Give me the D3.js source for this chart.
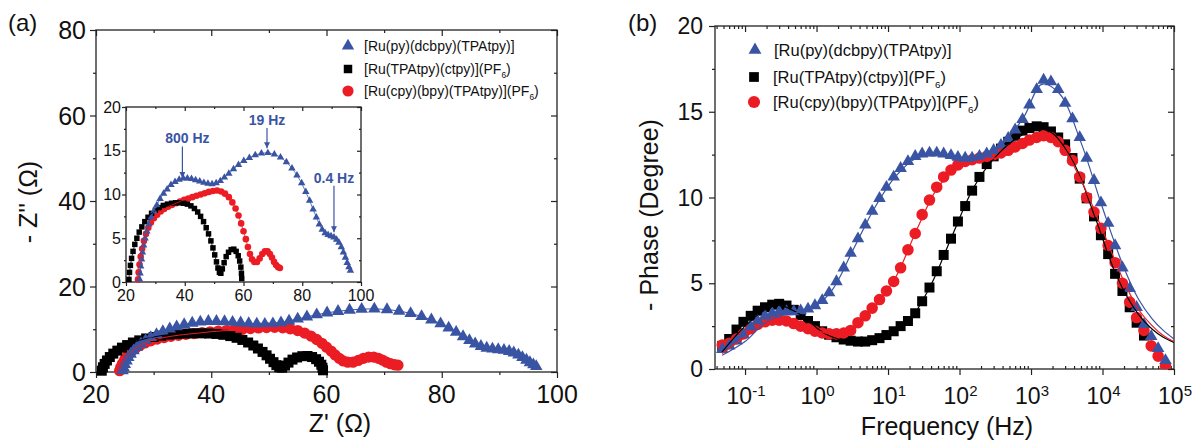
<!DOCTYPE html>
<html>
<head>
<meta charset="utf-8">
<script src="https://cdn.jsdelivr.net/npm/d3@7"></script>
<style>
  body { margin: 0; background: #fff; }
  svg text { font-family: Arial, "Liberation Sans", sans-serif; }
</style>
</head>
<body>
<svg id="fig" width="1194" height="442"></svg>
<script>
// ---------- series names ----------
const seriesNames = ["[Ru(py)(dcbpy)(TPAtpy)]", "[Ru(TPAtpy)(ctpy)](PF", "[Ru(cpy)(bpy)(TPAtpy)](PF"];

// ---------- Nyquist data: [Z' (ohm), -Z'' (ohm)] ----------
const zBlue = [[24.6,0.3],[24.8,1.0],[25.0,1.8],[25.3,2.6],[25.6,3.4],[26.0,4.2],[26.5,5.0],[27.1,5.8],[27.8,6.6],[28.6,7.4],[29.5,8.1],[30.5,8.8],[31.6,9.5],[32.8,10.1],[34.0,10.6],[35.3,11.1],[36.7,11.45],[38.1,11.7],[39.5,11.85],[40.9,11.85],[42.3,11.8],[43.7,11.65],[45.1,11.5],[46.5,11.35],[47.9,11.25],[49.3,11.2],[50.7,11.3],[52.1,11.55],[53.5,11.95],[55.0,12.4],[56.6,12.9],[58.3,13.4],[60.1,13.85],[62.0,14.2],[64.0,14.5],[66.1,14.7],[68.3,14.75],[70.5,14.6],[72.6,14.25],[74.6,13.7],[76.5,13.0],[78.2,12.2],[79.8,11.3],[81.2,10.3],[82.5,9.3],[83.7,8.3],[84.8,7.4],[85.8,6.6],[86.8,6.0],[87.8,5.6],[88.8,5.4],[89.8,5.25],[90.8,5.1],[91.7,4.85],[92.5,4.5],[93.3,4.0],[94.0,3.4],[94.7,2.8],[95.3,2.2],[95.9,1.7],[96.4,1.3]];
const zBlack = [[21.0,0.3],[21.2,1.1],[21.5,1.9],[21.9,2.7],[22.4,3.5],[23.0,4.3],[23.7,5.0],[24.5,5.7],[25.4,6.3],[26.4,6.9],[27.5,7.4],[28.7,7.85],[30.0,8.2],[31.3,8.5],[32.7,8.75],[34.1,8.9],[35.5,9.0],[36.9,9.05],[38.3,9.05],[39.6,9.0],[40.9,8.9],[42.1,8.7],[43.3,8.4],[44.4,8.0],[45.4,7.5],[46.4,6.9],[47.3,6.2],[48.1,5.5],[48.9,4.7],[49.6,3.9],[50.2,3.1],[50.8,2.3],[51.3,1.6],[51.8,1.1],[52.3,1.0],[52.8,1.5],[53.4,2.2],[54.1,2.9],[54.9,3.4],[55.8,3.7],[56.7,3.75],[57.5,3.5],[58.2,3.0],[58.7,2.4],[59.1,1.7],[59.3,1.0],[59.4,0.4]];
const zRed = [[24.1,0.3],[24.3,1.1],[24.6,2.0],[25.0,2.9],[25.5,3.8],[26.1,4.7],[26.8,5.5],[27.6,6.2],[28.5,6.8],[29.5,7.3],[30.6,7.7],[31.8,8.05],[33.0,8.35],[34.3,8.6],[35.6,8.8],[37.0,9.0],[38.4,9.2],[39.8,9.4],[41.2,9.55],[42.6,9.7],[44.0,9.85],[45.4,10.0],[46.8,10.15],[48.2,10.3],[49.6,10.4],[51.0,10.45],[52.4,10.35],[53.7,10.1],[55.0,9.7],[56.2,9.1],[57.3,8.4],[58.3,7.6],[59.2,6.7],[60.0,5.8],[60.8,4.9],[61.5,4.0],[62.2,3.2],[62.9,2.6],[63.7,2.3],[64.6,2.3],[65.5,2.7],[66.4,3.2],[67.3,3.5],[68.2,3.5],[69.0,3.2],[69.7,2.8],[70.4,2.3],[71.1,1.95],[71.8,1.7],[72.4,1.6]];

// frequency marks on the inset: label, Z', -Z'' of the marked point, -Z'' at the arrow tail
const freqMarks = [
  { label: "800 Hz", zre: 39.2, zim: 11.9, tail: 15.5 },
  { label: "19 Hz",  zre: 68.0, zim: 15.3, tail: 17.6 },
  { label: "0.4 Hz", zre: 90.8, zim: 5.7,  tail: 11.0 }
];

// ---------- Bode data ----------
const freqHz = [0.048,0.060,0.076,0.095,0.12,0.15,0.19,0.24,0.30,0.38,0.48,0.60,0.76,0.95,1.2,1.5,1.9,2.4,3.0,3.8,4.8,6.0,7.6,9.5,12,15,19,24,30,38,48,60,76,95,120,150,190,240,300,380,480,600,760,950,1200,1500,1900,2400,3000,3800,4800,6000,7600,9500,12000,15000,19000,24000,30000,38000,48000,60000,76000];
const phaseBlue = [1.15,1.35,1.65,2.0,2.45,2.8,3.1,3.25,3.35,3.35,3.35,3.4,3.5,3.7,4.0,4.45,5.1,5.9,6.75,7.6,8.4,9.2,9.95,10.6,11.2,11.7,12.1,12.4,12.55,12.6,12.6,12.55,12.45,12.35,12.3,12.3,12.4,12.55,12.75,13.05,13.45,13.95,14.55,15.4,16.3,16.85,16.75,16.3,15.5,14.6,13.5,12.3,11.0,9.7,8.5,7.2,5.9,4.7,3.6,2.6,1.9,1.2,0.5];
const phaseBlack = [1.35,1.75,2.3,2.75,3.1,3.4,3.6,3.75,3.8,3.7,3.45,3.15,2.8,2.5,2.2,2.0,1.85,1.72,1.65,1.6,1.6,1.68,1.8,1.98,2.2,2.5,2.8,3.25,3.95,4.75,5.7,6.65,7.6,8.6,9.5,10.4,11.2,11.95,12.4,12.85,13.25,13.6,13.9,14.05,14.15,14.1,13.85,13.5,13.1,12.3,11.1,9.95,8.9,7.8,6.7,5.55,4.55,3.6,2.7,1.95];
const phaseRed = [1.4,1.5,1.75,2.05,2.35,2.6,2.75,2.85,2.85,2.8,2.65,2.5,2.35,2.2,2.1,2.05,2.05,2.1,2.25,2.7,3.1,3.55,4.05,4.55,5.1,5.9,6.95,7.9,9.0,9.85,10.6,11.2,11.6,11.9,12.1,12.2,12.3,12.4,12.5,12.6,12.75,12.95,13.15,13.35,13.5,13.6,13.5,13.25,12.75,12.15,11.2,10.0,9.15,8.2,7.2,6.2,5.0,3.9,3.0,2.25,1.35,0.75,0.2];

// fitted curves: [log10(f / Hz), -phase (deg)]
const fitBlue = [[-1.32,0.8],[-1.0,1.6],[-0.7,2.75],[-0.4,3.2],[-0.1,3.45],[0.2,4.5],[0.5,6.85],[0.8,9.3],[1.1,11.2],[1.4,12.3],[1.7,12.45],[2.0,12.15],[2.3,12.35],[2.6,13.1],[2.9,14.7],[3.15,16.6],[3.4,16.05],[3.7,13.2],[4.0,9.4],[4.3,5.9],[4.5,4.1],[4.7,2.9],[4.85,2.25],[5.0,1.75]];
const fitRed = [[-1.32,0.9],[-1.0,1.85],[-0.7,2.6],[-0.45,2.8],[-0.1,2.4],[0.2,2.05],[0.5,2.3],[0.8,3.6],[1.1,5.3],[1.4,8.1],[1.7,10.6],[2.0,11.8],[2.3,12.15],[2.6,12.4],[2.9,12.95],[3.15,13.4],[3.4,13.1],[3.7,11.0],[4.0,8.1],[4.3,5.1],[4.5,3.5],[4.7,2.5],[4.85,1.95],[5.0,1.6]];
const fitBlack = [[-1.32,1.0],[-1.0,2.5],[-0.7,3.5],[-0.5,3.7],[-0.2,3.1],[0.1,2.1],[0.4,1.65],[0.7,1.55],[1.0,1.95],[1.3,2.85],[1.6,4.9],[1.9,7.8],[2.2,10.6],[2.5,12.35],[2.8,13.45],[3.1,14.0],[3.3,13.75],[3.6,12.0],[3.9,8.8],[4.2,5.4],[4.5,3.2],[4.7,2.3],[4.85,1.85],[5.0,1.55]];

// axis tick values
const zTicks = [20, 40, 60, 80, 100];
const zMinor = [30, 50, 70, 90];
const zImTicks = [0, 20, 40, 60, 80];
const zImMinor = [10, 30, 50, 70];
const insetYTicks = [0, 5, 10, 15, 20];
const insetYMinor = [2.5, 7.5, 12.5, 17.5];
const phaseTicks = [0, 5, 10, 15, 20];
const phaseMinor = [2.5, 7.5, 12.5, 17.5];
const decadeExps = [-1, 0, 1, 2, 3, 4, 5];

// ---------- styling ----------
const BLUE = "#3a54a4", RED = "#ec1c24", BLACK = "#000000", AXIS = "#222";

const svg = d3.select("#fig");
svg.append("rect").attr("width", 1194).attr("height", 442).attr("fill", "#fff");

// ---------- scales ----------
const xA = d3.scaleLinear().domain([20, 100]).range([96, 557]);
const yA = d3.scaleLinear().domain([0, 80]).range([372, 30]);
const xI = d3.scaleLinear().domain([20, 100]).range([126, 361]);
const yI = d3.scaleLinear().domain([0, 20]).range([282, 107]);
const xB = d3.scaleLog().domain([0.038, 1e5]).range([715, 1174]);
const yB = d3.scaleLinear().domain([0, 20]).range([369, 26]);

// ---------- helpers ----------
function tickRow(axisFn, scale, values, size, tx, ty) {
  svg.append("g").attr("transform", `translate(${tx},${ty})`)
    .call(axisFn(scale).tickValues(values).tickSize(size).tickSizeOuter(0).tickFormat(""))
    .call(g => g.select(".domain").remove())
    .call(g => g.selectAll("line").attr("stroke", AXIS).attr("stroke-width", 1.2));
}
function box(x, y, fill) {
  svg.append("rect")
    .attr("x", x.range()[0]).attr("y", y.range()[1])
    .attr("width", x.range()[1] - x.range()[0]).attr("height", y.range()[0] - y.range()[1])
    .attr("fill", fill).attr("stroke", AXIS).attr("stroke-width", 1.3);
}
function markers(g, pts, shape, size, color) {
  g.selectAll(null).data(pts).join("path")
    .attr("transform", d => `translate(${d[0]},${d[1]})`)
    .attr("d", d3.symbol(shape, size)())
    .attr("fill", color);
}
function trace(g, pts, color, width, curve) {
  g.append("path").datum(pts)
    .attr("d", d3.line().curve(curve)(pts))
    .attr("fill", "none").attr("stroke", color).attr("stroke-width", width);
}
function legendRow(x, y, shape, size, color, name, sub, fontSize) {
  svg.append("path").attr("transform", `translate(${x},${y})`)
    .attr("d", d3.symbol(shape, size)()).attr("fill", color);
  const t = svg.append("text").attr("x", x + (fontSize > 15 ? 19 : 16)).attr("y", y + fontSize * 0.36)
    .attr("font-size", fontSize).attr("fill", "#111");
  t.append("tspan").text(name);
  if (sub) {
    t.append("tspan").attr("font-size", fontSize * 0.6).attr("dy", fontSize * 0.28).text(sub);
    t.append("tspan").attr("dy", -fontSize * 0.28).text(")");
  }
}

// =============== panel (a): Nyquist ===============
box(xA, yA, "none");
tickRow(d3.axisBottom, xA, zTicks, 6, 0, 372);
tickRow(d3.axisBottom, xA, zMinor, 3, 0, 372);
tickRow(d3.axisTop, xA, zTicks, -6, 0, 30);
tickRow(d3.axisTop, xA, zMinor, -3, 0, 30);
tickRow(d3.axisLeft, yA, zImTicks, 6, 96, 0);
tickRow(d3.axisLeft, yA, zImMinor, 3, 96, 0);
tickRow(d3.axisRight, yA, zImTicks, -6, 557, 0);
tickRow(d3.axisRight, yA, zImMinor, -3, 557, 0);

svg.append("g").selectAll("text").data(zTicks).join("text")
  .attr("x", d => xA(d)).attr("y", 403).attr("text-anchor", "middle")
  .attr("font-size", 25).attr("fill", "#111").text(d => d);
svg.append("g").selectAll("text").data(zImTicks).join("text")
  .attr("x", 86).attr("y", d => yA(d) + 9).attr("text-anchor", "end")
  .attr("font-size", 25).attr("fill", "#111").text(d => d);

svg.append("text").attr("x", 340).attr("y", 432).attr("text-anchor", "middle")
  .attr("font-size", 25).attr("fill", "#111").text("Z' (Ω)");
svg.append("text").attr("transform", "translate(37,202) rotate(-90)").attr("text-anchor", "middle")
  .attr("font-size", 25).attr("fill", "#111").text("- Z'' (Ω)");
svg.append("text").attr("x", 8).attr("y", 31).attr("font-size", 24).attr("fill", "#111").text("(a)");

const gA = svg.append("g");
const toA = d => [xA(d[0]), yA(d[1])];
markers(gA, zRed.map(toA), d3.symbolCircle, 100, RED);
markers(gA, zBlack.map(toA), d3.symbolSquare, 100, BLACK);
markers(gA, zBlue.map(toA), d3.symbolTriangle, 68, BLUE);
trace(gA, zBlack.map(toA), BLACK, 1, d3.curveCatmullRom);
trace(gA, zBlue.map(toA), BLUE, 1, d3.curveCatmullRom);
trace(gA, zRed.map(toA), RED, 1, d3.curveCatmullRom);

// legend (a)
legendRow(348, 46, d3.symbolTriangle, 66, BLUE, seriesNames[0], null, 14);
legendRow(348, 69, d3.symbolSquare, 72, BLACK, seriesNames[1], "6", 14);
legendRow(348, 91, d3.symbolCircle, 98, RED, seriesNames[2], "6", 14);

// ---------- inset ----------
box(xI, yI, "#fff");
const gI = svg.append("g");
const toI = d => [xI(d[0]), yI(d[1])];
markers(gI, zRed.map(toI), d3.symbolCircle, 34, RED);
markers(gI, zBlack.map(toI), d3.symbolSquare, 30, BLACK);
markers(gI, zBlue.map(toI), d3.symbolTriangle, 24, BLUE);
trace(gI, zBlack.map(toI), BLACK, 0.8, d3.curveCatmullRom);
trace(gI, zBlue.map(toI), BLUE, 0.8, d3.curveCatmullRom);
trace(gI, zRed.map(toI), RED, 0.8, d3.curveCatmullRom);

tickRow(d3.axisBottom, xI, zTicks, 4, 0, 282);
tickRow(d3.axisBottom, xI, zMinor, 2, 0, 282);
tickRow(d3.axisTop, xI, zTicks, -4, 0, 107);
tickRow(d3.axisTop, xI, zMinor, -2, 0, 107);
tickRow(d3.axisLeft, yI, insetYTicks, 4, 126, 0);
tickRow(d3.axisLeft, yI, insetYMinor, 2, 126, 0);
tickRow(d3.axisRight, yI, insetYTicks, -4, 361, 0);
tickRow(d3.axisRight, yI, insetYMinor, -2, 361, 0);

svg.append("g").selectAll("text").data(zTicks).join("text")
  .attr("x", d => xI(d)).attr("y", 301).attr("text-anchor", "middle")
  .attr("font-size", 16).attr("fill", "#111").text(d => d);
svg.append("g").selectAll("text").data(insetYTicks).join("text")
  .attr("x", 121).attr("y", d => yI(d) + 5.7).attr("text-anchor", "end")
  .attr("font-size", 16).attr("fill", "#111").text(d => d);

// frequency arrows
const defs = svg.append("defs");
defs.append("marker").attr("id", "arrowHead").attr("viewBox", "0 0 10 10")
  .attr("refX", 10).attr("refY", 5).attr("markerWidth", 6).attr("markerHeight", 6)
  .attr("markerUnits", "userSpaceOnUse").attr("orient", "auto")
  .append("path").attr("d", "M0,0 L10,5 L0,10 Z").attr("fill", BLUE);
const gM = svg.append("g");
gM.selectAll("line").data(freqMarks).join("line")
  .attr("x1", d => xI(d.zre)).attr("x2", d => xI(d.zre))
  .attr("y1", d => yI(d.tail)).attr("y2", d => yI(d.zim))
  .attr("stroke", BLUE).attr("stroke-width", 1.2).attr("marker-end", "url(#arrowHead)");
gM.selectAll("text").data(freqMarks).join("text")
  .attr("x", d => xI(d.zre) + (d.label === "800 Hz" ? 5 : 0)).attr("y", d => yI(d.tail) - 3)
  .attr("text-anchor", "middle").attr("font-size", 14).attr("font-weight", "bold")
  .attr("fill", BLUE).text(d => d.label);

// =============== panel (b): Bode phase ===============
box(xB, yB, "none");
const allLog = xB.ticks();
const majorF = decadeExps.map(e => Math.pow(10, e));
const minorF = allLog.filter(f => !majorF.some(m => Math.abs(Math.log10(f) - Math.log10(m)) < 1e-6));
tickRow(d3.axisBottom, xB, majorF, 6, 0, 369);
tickRow(d3.axisBottom, xB, minorF, -3, 0, 369);
tickRow(d3.axisTop, xB, majorF, -6, 0, 26);
tickRow(d3.axisTop, xB, minorF, -3, 0, 26);
tickRow(d3.axisLeft, yB, phaseTicks, 6, 715, 0);
tickRow(d3.axisLeft, yB, phaseMinor, 3, 715, 0);
tickRow(d3.axisRight, yB, phaseTicks, -6, 1174, 0);
tickRow(d3.axisRight, yB, phaseMinor, -3, 1174, 0);

svg.append("g").selectAll("text").data(phaseTicks).join("text")
  .attr("x", 703).attr("y", d => yB(d) + 8.2).attr("text-anchor", "end")
  .attr("font-size", 23).attr("fill", "#111").text(d => d);
const decLabels = svg.append("g").selectAll("text").data(decadeExps).join("text")
  .attr("x", d => xB(Math.pow(10, d)) + 1).attr("y", 404).attr("text-anchor", "middle")
  .attr("font-size", 23).attr("fill", "#111");
decLabels.append("tspan").text("10");
decLabels.append("tspan").attr("font-size", 15).attr("dy", -8).text(d => d < 0 ? "-" + Math.abs(d) : d);

svg.append("text").attr("x", 947).attr("y", 435).attr("text-anchor", "middle")
  .attr("font-size", 25).attr("fill", "#111").text("Frequency (Hz)");
svg.append("text").attr("transform", "translate(658,215) rotate(-90)").attr("text-anchor", "middle")
  .attr("font-size", 25).attr("fill", "#111").text("- Phase (Degree)");
svg.append("text").attr("x", 628).attr("y", 31).attr("font-size", 24).attr("fill", "#111").text("(b)");

svg.append("clipPath").attr("id", "clipB").append("rect")
  .attr("x", 715).attr("y", 26).attr("width", 459).attr("height", 343);
const gB = svg.append("g").attr("clip-path", "url(#clipB)");
const bodePts = vals => vals.map((v, i) => [xB(freqHz[i]), yB(v)]);
markers(gB, bodePts(phaseBlack), d3.symbolSquare, 100, BLACK);
markers(gB, bodePts(phaseRed), d3.symbolCircle, 105, RED);
markers(gB, bodePts(phaseBlue), d3.symbolTriangle, 68, BLUE);
const fitPts = arr => arr.map(d => [xB(Math.pow(10, d[0])), yB(d[1])]);
trace(gB, fitPts(fitBlack), BLACK, 1.2, d3.curveCatmullRom);
trace(gB, fitPts(fitRed), RED, 1.2, d3.curveCatmullRom);
trace(gB, fitPts(fitBlue), BLUE, 1.2, d3.curveCatmullRom);

// legend (b)
legendRow(755, 50, d3.symbolTriangle, 72, BLUE, seriesNames[0], null, 16.5);
legendRow(754, 77, d3.symbolSquare, 95, BLACK, seriesNames[1], "6", 16.5);
legendRow(754, 102, d3.symbolCircle, 115, RED, seriesNames[2], "6", 16.5);
</script>
</body>
</html>
